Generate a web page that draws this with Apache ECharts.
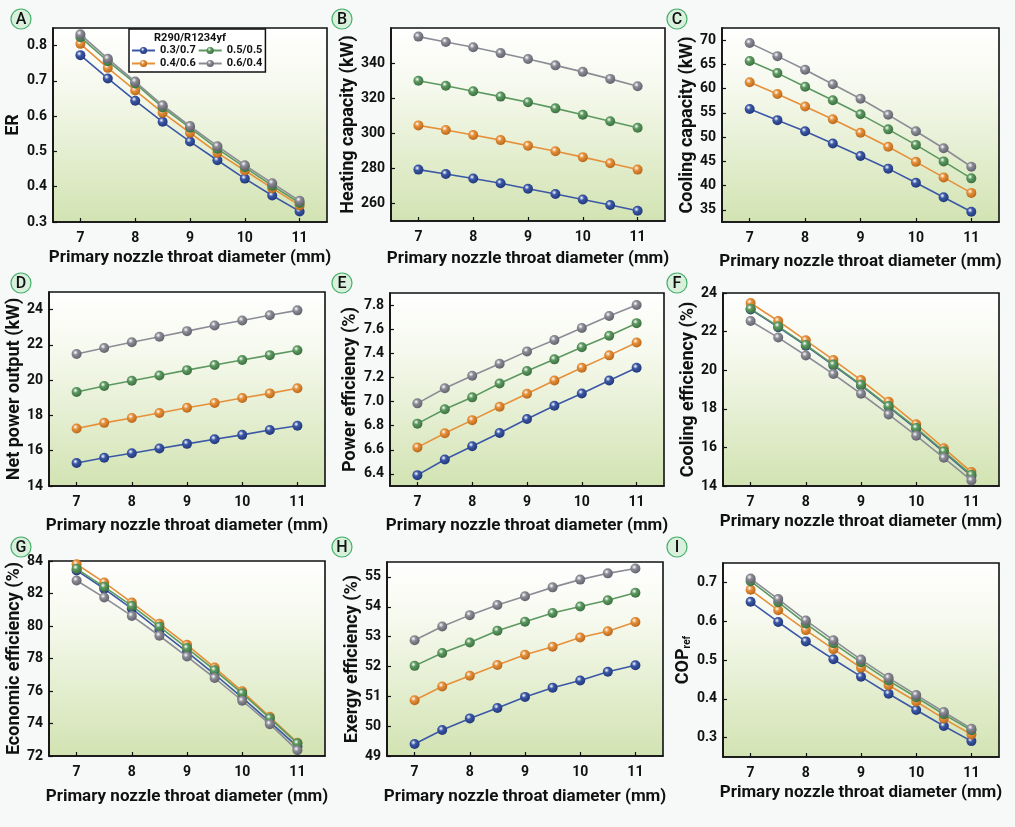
<!DOCTYPE html>
<html>
<head>
<meta charset="utf-8">
<script src="https://cdn.jsdelivr.net/npm/echarts@6/dist/echarts.min.js"></script>
<style>
html,body{margin:0;padding:0;background:#f7f8f8;}
#main{width:1015px;height:827px;}
</style>
</head>
<body>
<div id="main"></div>
<script>
// ---- data ----
const diameters = [7, 7.5, 8, 8.5, 9, 9.5, 10, 10.5, 11];
const xTicks = [7, 8, 9, 10, 11];
const seriesNames = ['0.3/0.7', '0.4/0.6', '0.5/0.5', '0.6/0.4'];
const legendOrder = ['0.3/0.7', '0.5/0.5', '0.4/0.6', '0.6/0.4'];
const legendTitle = 'R290/R1234yf';
const xAxisTitle = 'Primary nozzle throat diameter (mm)';

// A: ER
const er_03 = [0.773, 0.707, 0.644, 0.584, 0.528, 0.475, 0.423, 0.375, 0.330];
const er_04 = [0.805, 0.737, 0.673, 0.610, 0.553, 0.496, 0.446, 0.396, 0.347];
const er_05 = [0.824, 0.756, 0.693, 0.625, 0.567, 0.508, 0.455, 0.403, 0.354];
const er_06 = [0.832, 0.763, 0.698, 0.631, 0.572, 0.515, 0.461, 0.410, 0.360];
const er_ticks = [0.3, 0.4, 0.5, 0.6, 0.7, 0.8];
// B: heating capacity
const heat_03 = [279.3, 276.8, 274.2, 271.5, 268.4, 265.4, 262.3, 259.1, 255.8];
const heat_04 = [304.5, 301.9, 299.0, 296.1, 292.9, 289.8, 286.4, 282.9, 279.3];
const heat_05 = [329.9, 327.1, 324.0, 320.9, 317.7, 314.2, 310.6, 306.9, 303.1];
const heat_06 = [355.1, 352.0, 349.0, 345.7, 342.3, 338.7, 335.0, 331.0, 326.8];
const heat_ticks = [260, 280, 300, 320, 340];
// C: cooling capacity
const cool_03 = [55.8, 53.5, 51.2, 48.7, 46.1, 43.5, 40.6, 37.6, 34.6];
const cool_04 = [61.3, 58.9, 56.3, 53.7, 50.9, 48.0, 44.9, 41.7, 38.5];
const cool_05 = [65.7, 63.2, 60.4, 57.6, 54.7, 51.6, 48.4, 45.0, 41.5];
const cool_06 = [69.4, 66.7, 63.9, 60.9, 57.9, 54.6, 51.2, 47.7, 43.9];
const cool_ticks = [35, 40, 45, 50, 55, 60, 65, 70];
// D: net power output
const power_03 = [15.30, 15.60, 15.86, 16.13, 16.39, 16.65, 16.90, 17.18, 17.42];
const power_04 = [17.26, 17.58, 17.86, 18.14, 18.44, 18.71, 18.99, 19.25, 19.54];
const power_05 = [19.33, 19.67, 19.97, 20.27, 20.57, 20.86, 21.14, 21.42, 21.70];
const power_06 = [21.48, 21.82, 22.15, 22.46, 22.78, 23.10, 23.38, 23.68, 23.96];
const power_ticks = [14, 16, 18, 20, 22, 24];
// E: power efficiency
const peff_03 = [6.390, 6.520, 6.630, 6.740, 6.855, 6.965, 7.067, 7.175, 7.280];
const peff_04 = [6.620, 6.737, 6.846, 6.957, 7.065, 7.175, 7.280, 7.383, 7.490];
const peff_05 = [6.817, 6.936, 7.035, 7.150, 7.254, 7.350, 7.450, 7.545, 7.650];
const peff_06 = [6.985, 7.110, 7.214, 7.314, 7.416, 7.510, 7.610, 7.710, 7.800];
const peff_ticks = [6.4, 6.6, 6.8, 7.0, 7.2, 7.4, 7.6, 7.8];
// F: cooling efficiency
const ceff_03 = [23.15, 22.23, 21.27, 20.25, 19.21, 18.10, 16.96, 15.75, 14.52];
const ceff_04 = [23.48, 22.55, 21.55, 20.53, 19.49, 18.37, 17.20, 15.96, 14.72];
const ceff_05 = [23.18, 22.27, 21.31, 20.29, 19.25, 18.14, 17.01, 15.80, 14.58];
const ceff_06 = [22.55, 21.69, 20.76, 19.80, 18.78, 17.71, 16.61, 15.46, 14.29];
const ceff_ticks = [14, 16, 18, 20, 22, 24];
// G: economic efficiency
const econ_03 = [83.42, 82.29, 81.07, 79.73, 78.41, 77.03, 75.59, 74.10, 72.58];
const econ_04 = [83.80, 82.68, 81.44, 80.14, 78.84, 77.44, 75.98, 74.41, 72.82];
const econ_05 = [83.53, 82.41, 81.24, 79.96, 78.64, 77.28, 75.86, 74.33, 72.78];
const econ_06 = [82.80, 81.75, 80.62, 79.40, 78.12, 76.80, 75.40, 73.96, 72.35];
const econ_ticks = [72, 74, 76, 78, 80, 82, 84];
// H: exergy efficiency
const exe_03 = [49.40, 49.87, 50.26, 50.61, 50.98, 51.29, 51.53, 51.82, 52.04];
const exe_04 = [50.87, 51.33, 51.69, 52.05, 52.39, 52.66, 52.97, 53.18, 53.49];
const exe_05 = [52.02, 52.45, 52.80, 53.20, 53.50, 53.79, 54.01, 54.22, 54.47];
const exe_06 = [52.88, 53.34, 53.72, 54.06, 54.35, 54.65, 54.91, 55.12, 55.28];
const exe_ticks = [49, 50, 51, 52, 53, 54, 55];
// I: COP_ref
const cop_03 = [0.650, 0.598, 0.548, 0.502, 0.457, 0.413, 0.371, 0.330, 0.291];
const cop_04 = [0.681, 0.628, 0.577, 0.528, 0.480, 0.435, 0.393, 0.349, 0.308];
const cop_05 = [0.703, 0.649, 0.594, 0.543, 0.494, 0.447, 0.404, 0.360, 0.319];
const cop_06 = [0.710, 0.657, 0.602, 0.551, 0.501, 0.454, 0.410, 0.366, 0.323];
const cop_ticks = [0.3, 0.4, 0.5, 0.6, 0.7];

// ---- panel config (layout/style) ----
const panels = [
  {tag:'A', name:'ER', data:[er_03,er_04,er_05,er_06], ticks:er_ticks, min:0.3, max:0.85, dec:1,
   grid:{left:53, top:28, width:274, height:194}, nameGap:26, xGap:27, badge:[21,19]},
  {tag:'B', name:'Heating capacity (kW)', data:[heat_03,heat_04,heat_05,heat_06], ticks:heat_ticks, min:250, max:360, dec:0,
   grid:{left:391, top:28, width:274, height:193}, nameGap:23, xGap:29, badge:[342,19]},
  {tag:'C', name:'Cooling capacity (kW)', data:[cool_03,cool_04,cool_05,cool_06], ticks:cool_ticks, min:32.5, max:72.5, dec:0,
   grid:{left:722, top:28, width:277, height:194}, nameGap:17, xGap:31, badge:[677,19]},
  {tag:'D', name:'Net power output (kW)', data:[power_03,power_04,power_05,power_06], ticks:power_ticks, min:14, max:25, dec:0,
   grid:{left:49, top:292, width:276, height:194}, nameGap:18, xGap:31, badge:[21,283]},
  {tag:'E', name:'Power efficiency (%)', data:[peff_03,peff_04,peff_05,peff_06], ticks:peff_ticks, min:6.3, max:7.9, dec:1,
   grid:{left:390, top:293, width:274, height:193}, nameGap:22, xGap:31, badge:[342,283]},
  {tag:'F', name:'Cooling efficiency (%)', data:[ceff_03,ceff_04,ceff_05,ceff_06], ticks:ceff_ticks, min:14, max:24, dec:0,
   grid:{left:723, top:293, width:276, height:193}, nameGap:18, xGap:27, badge:[677,283]},
  {tag:'G', name:'Economic efficiency (%)', data:[econ_03,econ_04,econ_05,econ_06], ticks:econ_ticks, min:72, max:84, dec:0,
   grid:{left:49, top:561, width:276, height:195}, nameGap:18, xGap:32, badge:[21,547]},
  {tag:'H', name:'Exergy efficiency (%)', data:[exe_03,exe_04,exe_05,exe_06], ticks:exe_ticks, min:49, max:55.5, dec:0,
   grid:{left:387, top:562, width:276, height:194}, nameGap:19, xGap:32, badge:[342,547]},
  {tag:'I', name:'{a|COP}{b|ref}', data:[cop_03,cop_04,cop_05,cop_06], ticks:cop_ticks, min:0.25, max:0.75, dec:1,
   grid:{left:723, top:563, width:276, height:194}, nameGap:25, xGap:27, badge:[677,547]}
];

const lineColors = ['#3b58a6', '#e6903a', '#5c9960', '#8c8c97'];
const darkColors = ['#1f3475', '#b4651a', '#3a6c3e', '#5e5e68'];

function ball(i){
  return {type:'radial', x:0.38, y:0.35, r:0.7,
    colorStops:[{offset:0,color:'#ffffff'},{offset:0.35,color:lineColors[i]},{offset:1,color:darkColors[i]}]};
}

const FONT = 'Roboto, "Liberation Sans", Arial, sans-serif';
const plotBg = {type:'linear', x:0, y:0, x2:0, y2:1,
  colorStops:[{offset:0,color:'#ffffff'},{offset:0.3,color:'#f6f9ee'},{offset:1,color:'#d2e3b2'}]};

const grids = [], xAxes = [], yAxes = [], series = [], graphics = [];
panels.forEach((p, k) => {
  grids.push(Object.assign({show:true, backgroundColor:plotBg, borderColor:'#111', borderWidth:1.6, containLabel:false}, p.grid));
  xAxes.push({
    type:'value', gridIndex:k, min:6.5, max:11.5, interval:0.5,
    name:xAxisTitle, nameLocation:'middle', nameGap:p.xGap,
    nameTextStyle:{fontSize:17, fontWeight:'bold', color:'#111', fontFamily:FONT},
    axisLine:{show:true, onZero:false, lineStyle:{color:'#111', width:1.6}},
    axisTick:{show:true, inside:true, length:4, customValues:xTicks, lineStyle:{color:'#111', width:1.2}},
    axisLabel:{customValues:xTicks, fontSize:14, fontWeight:'bold', color:'#111', fontFamily:FONT, margin:9},
    splitLine:{show:false}
  });
  yAxes.push({
    type:'value', gridIndex:k, min:p.min, max:p.max,
    name:p.name, nameLocation:'middle', nameGap:p.nameGap, nameRotate:90,
    nameTextStyle:{fontSize:18, fontWeight:'bold', color:'#111', fontFamily:FONT,
      rich:{a:{fontSize:18, fontWeight:'bold', color:'#111', fontFamily:FONT},
            b:{fontSize:10, fontWeight:'bold', color:'#111', fontFamily:FONT, padding:[8,0,0,0]}}},
    axisLine:{show:true, onZero:false, lineStyle:{color:'#111', width:1.6}},
    axisTick:{show:true, inside:true, length:4, customValues:p.ticks, lineStyle:{color:'#111', width:1.2}},
    axisLabel:{customValues:p.ticks, fontSize:14, fontWeight:'bold', color:'#111', fontFamily:FONT, margin:6,
      formatter:(v)=>Number(v).toFixed(p.dec)},
    splitLine:{show:false}
  });
  p.data.forEach((arr, i) => {
    series.push({
      name:seriesNames[i], type:'line', xAxisIndex:k, yAxisIndex:k,
      data:diameters.map((d, j) => [d, arr[j]]),
      symbol:'circle', symbolSize:10, showSymbol:true,
      lineStyle:{color:lineColors[i], width:1.6},
      itemStyle:{color:ball(i), borderWidth:0},
      z:2+i, animation:false
    });
  });
  graphics.push({type:'circle', shape:{cx:p.badge[0], cy:p.badge[1], r:10},
    style:{fill:'#d9f0dd', stroke:'#47b06a', lineWidth:1.2}});
  graphics.push({type:'text', x:p.badge[0], y:p.badge[1]+1,
    style:{text:p.tag, fill:'#111', font:'500 16px ' + FONT, textAlign:'center', textVerticalAlign:'middle'}});
});

graphics.push({type:'text', x:190, y:38, z:100,
  style:{text:legendTitle, fill:'#111', font:'bold 11px ' + FONT, textAlign:'center', textVerticalAlign:'middle'}});

const chart = echarts.init(document.getElementById('main'), null, {renderer:'canvas'});
chart.setOption({
  backgroundColor:'#f7f8f8',
  animation:false,
  grid:grids, xAxis:xAxes, yAxis:yAxes, series:series,
  legend:{
    data:legendOrder, left:129, top:29, width:140, orient:'horizontal',
    padding:[16,3,3,2], itemGap:2, itemWidth:23, itemHeight:9,
    backgroundColor:'#ffffff', borderColor:'#111', borderWidth:1.5,
    textStyle:{fontSize:11, fontWeight:'bold', color:'#111', fontFamily:FONT},
    z:50
  },
  graphic:{elements:graphics}
});
</script>
</body>
</html>
